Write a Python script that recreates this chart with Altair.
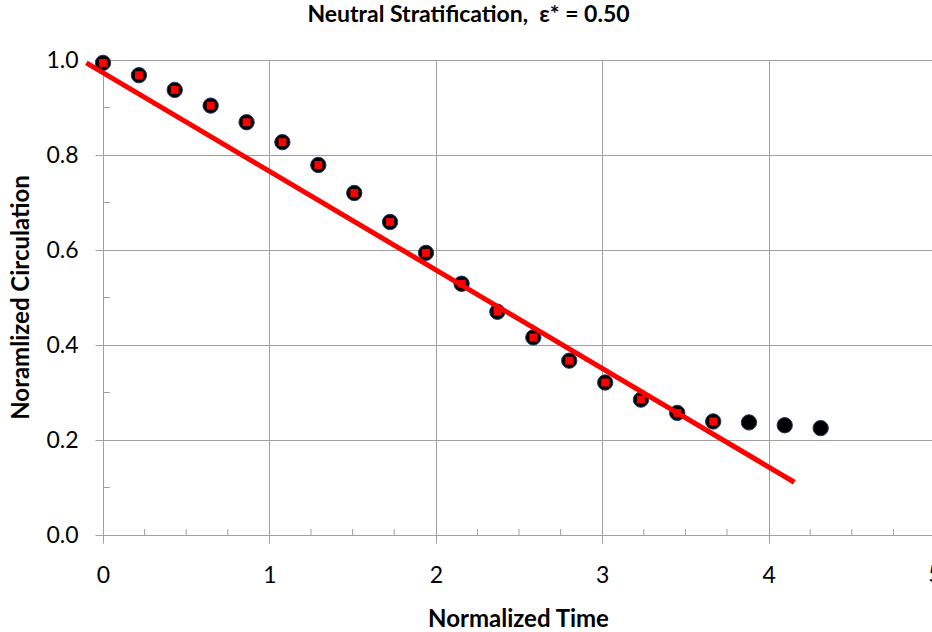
import altair as alt
import pandas as pd

# ---- data ----
t = [0.000, 0.216, 0.431, 0.647, 0.863, 1.078, 1.294, 1.510, 1.725, 1.941, 2.155,
     2.370, 2.586, 2.802, 3.018, 3.233, 3.451, 3.667, 3.882, 4.097, 4.313]
gamma = [0.994, 0.968, 0.937, 0.904, 0.869, 0.827, 0.779, 0.720, 0.659, 0.594, 0.529,
         0.470, 0.416, 0.367, 0.321, 0.285, 0.257, 0.239, 0.237, 0.231, 0.225]
n_square = 18  # red squares overlay the first 18 points
fit_t = [-0.10, 4.155]
fit_g = [0.994, 0.111]
x_major = [0, 1, 2, 3, 4]
x_edge_label = [5]
y_major = [0.0, 0.2, 0.4, 0.6, 0.8, 1.0]
x_minor = [0.25, 0.5, 0.75, 1.25, 1.5, 1.75, 2.25, 2.5, 2.75, 3.25, 3.5, 3.75, 4.25, 4.5, 4.75]
y_minor = [0.1, 0.3, 0.5, 0.7, 0.9]

W, H = 829, 475
FONT = "Lato"
GRID = "#a0a0a0"
LBL = 23
TTL = 24

pts = pd.DataFrame({"t": t, "g": gamma})
sq = pts.iloc[:n_square]
fit = pd.DataFrame({"t": fit_t, "g": fit_g})

xs = alt.Scale(domain=[0, 4.982], nice=False, zero=False)
ys = alt.Scale(domain=[0, 1.0], nice=False)

x_axis = alt.Axis(title="Normalized Time", values=x_major, format="d", grid=True,
                  gridColor=GRID, domainColor=GRID, tickColor=GRID, tickSize=8,
                  labelFont=FONT, labelFontSize=LBL, labelColor="black", labelPadding=21,
                  labelFlush=False, labelOverlap=False,
                  titleFont=FONT, titleFontSize=TTL, titleFontWeight="bold", titleColor="black",
                  titleY=91, titleBaseline="alphabetic", titleX=415)
y_axis = alt.Axis(title="Noramlized Circulation", values=y_major, format=".1f", grid=True,
                  gridColor=GRID, domainColor=GRID, tickColor=GRID, tickSize=8,
                  labelFont=FONT, labelFontSize=LBL, labelColor="black", labelPadding=17,
                  labelFlush=False,
                  titleFont=FONT, titleFontSize=TTL, titleFontWeight="bold", titleColor="black",
                  titleX=-75, titleY=237, titleBaseline="alphabetic")

circles = alt.Chart(pts).mark_circle(size=235, color="black", opacity=1, stroke="#1f3864",
                                     strokeWidth=1, clip=False).encode(
    x=alt.X("t:Q", scale=xs, axis=x_axis),
    y=alt.Y("g:Q", scale=ys, axis=y_axis),
)
squares = alt.Chart(sq).mark_square(size=62, color="#ff0000", opacity=1, clip=False).encode(
    x=alt.X("t:Q", scale=xs), y=alt.Y("g:Q", scale=ys))
line = alt.Chart(fit).mark_line(color="#ff0000", strokeWidth=5, clip=False).encode(
    x=alt.X("t:Q", scale=xs), y=alt.Y("g:Q", scale=ys))

xminor = alt.Chart(pd.DataFrame({"t": x_minor})).mark_rule(color=GRID, strokeWidth=1).encode(
    x=alt.X("t:Q", scale=xs), y=alt.value(H), y2=alt.value(H - 6))
yminor = alt.Chart(pd.DataFrame({"g": y_minor})).mark_rule(color=GRID, strokeWidth=1).encode(
    y=alt.Y("g:Q", scale=ys), x=alt.value(0), x2=alt.value(7))

edge = alt.Chart(pd.DataFrame({"t": x_edge_label})).mark_text(
    font=FONT, fontSize=LBL, color="black", baseline="top", align="center", dy=29, clip=False
).encode(x=alt.X("t:Q", scale=xs), y=alt.value(H), text=alt.Text("t:Q", format="d"))

chart = alt.layer(xminor, yminor, circles, squares, line, edge).properties(
    width=W, height=H,
    title=alt.TitleParams("Neutral Stratification,\u00a0 ε* = 0.50", font=FONT, fontSize=23,
                          fontWeight="bold", color="black", anchor="middle", offset=22, dx=-49),
    autosize=alt.AutoSizeParams(type="none"),
    padding={"left": 103, "top": 60, "right": 0, "bottom": 97},
    background="white",
).configure_view(stroke=None)

chart.save("out.html", embed_options={"renderer": "svg", "actions": False})
